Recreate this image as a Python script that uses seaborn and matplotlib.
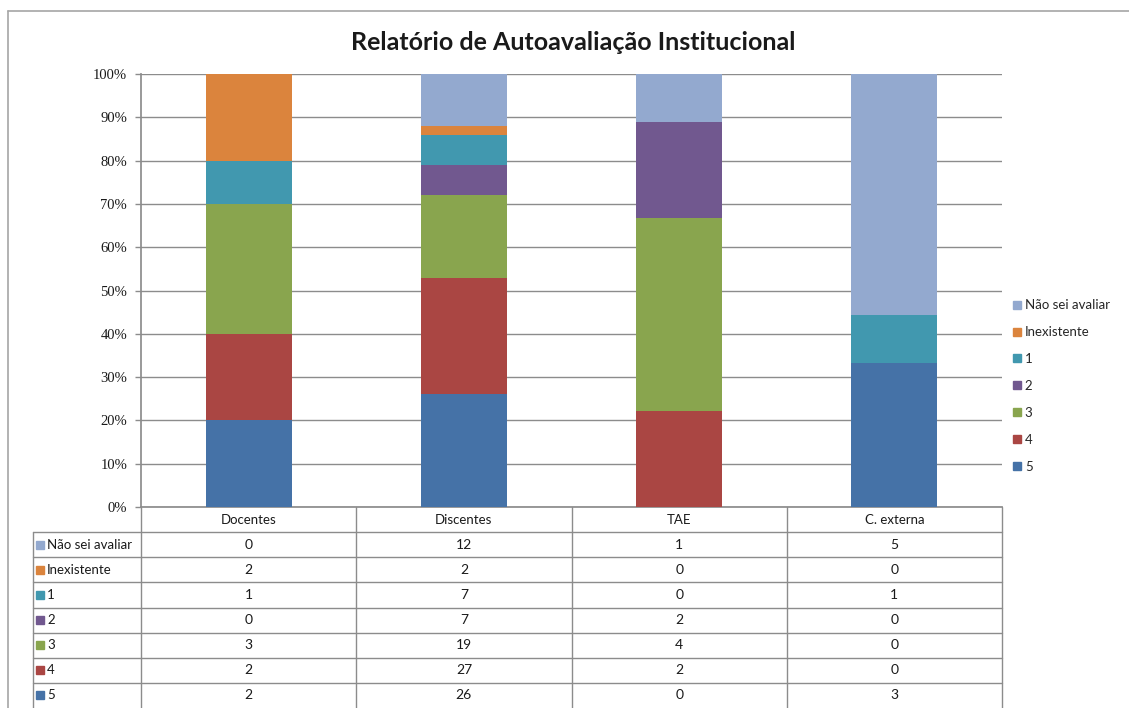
import numpy as np
import pandas as pd
import matplotlib
matplotlib.use("Agg")
import matplotlib.pyplot as plt
import seaborn as sns
from matplotlib.lines import Line2D

# ---------------- data ----------------
categories = ["Docentes", "Discentes", "TAE", "C. externa"]
series_names = ["Não sei avaliar", "Inexistente", "1", "2", "3", "4", "5"]  # table order (top of stack first)
nao_sei = [0, 12, 1, 5]
inexistente = [2, 2, 0, 0]
nota1 = [1, 7, 0, 1]
nota2 = [0, 7, 2, 0]
nota3 = [3, 19, 4, 0]
nota4 = [2, 27, 2, 0]
nota5 = [2, 26, 0, 3]
series_colors = ["#93A9CF", "#DB843D", "#4198AF", "#71588F", "#89A54E", "#AA4643", "#4572A7"]
ytick_values = [0, 0.1, 0.2, 0.3, 0.4, 0.5, 0.6, 0.7, 0.8, 0.9, 1.0]
ytick_labels = ["0%", "10%", "20%", "30%", "40%", "50%", "60%", "70%", "80%", "90%", "100%"]
title = "Relatório de Autoavaliação Institucional"

counts = np.array([nao_sei, inexistente, nota1, nota2, nota3, nota4, nota5], dtype=float)
totals = counts.sum(axis=0)
pct = counts / totals
# cumulative from the bottom of the stack ("5") upwards
cum = np.cumsum(pct[::-1], axis=0)[::-1]

sns.set_theme(style="white")
plt.rcParams['font.family'] = ['Lato', 'DejaVu Sans']

W, H = 1129, 708
fig = plt.figure(figsize=(W / 100, H / 100), dpi=100)
fig.patch.set_facecolor("white")

def fx(px):
    return px / W

def fy(py):
    return 1 - py / H

# outer frame
fig.add_artist(Line2D([fx(7.5), 1.0], [fy(10.5), fy(10.5)], color="#a6a6a6", lw=1.2))
fig.add_artist(Line2D([fx(7.5), fx(7.5)], [fy(10.5), 0.0], color="#a6a6a6", lw=1.2))

# main axes
L, R, T, B = 141, 1002, 74, 507
ax = fig.add_axes([fx(L), fy(B), fx(R) - fx(L), fy(T) - fy(B)])
grid_color = "#8c8c8c"

for i in range(len(series_names)):
    df = pd.DataFrame({"cat": categories, "val": cum[i]})
    sns.barplot(data=df, x="cat", y="val", order=categories, color=series_colors[i],
                width=0.4, linewidth=0, saturation=1, ax=ax, zorder=3)

ax.set_xlim(-0.5, 3.5)
ax.set_ylim(0, 1)
ax.set_yticks(ytick_values)
ax.set_yticklabels(ytick_labels, family="Liberation Serif", fontsize=10.5, color="#1a1a1a")
ax.set_xticks([])
ax.set_xlabel("")
ax.set_ylabel("")
ax.yaxis.grid(True, color=grid_color, lw=1)
ax.set_axisbelow(True)
for s in ["top", "right"]:
    ax.spines[s].set_visible(False)
ax.spines["left"].set_color(grid_color)
ax.spines["bottom"].set_color(grid_color)
ax.tick_params(axis="y", direction="out", length=4, width=1, color=grid_color, pad=6, left=True)
ax.set_facecolor("white")

fig.text(fx(573), fy(42.5), title, ha="center", va="center", fontsize=18, fontweight="bold",
         color="#1a1a1a")

# legend
handles = [Line2D([0], [0], marker="s", ls="none", markersize=5.5, markerfacecolor=c,
                  markeredgecolor=c) for c in series_colors]
fig.legend(handles, series_names, loc="center left", bbox_to_anchor=(fx(1005), fy(386)),
           frameon=False, fontsize=9.5, handletextpad=0.1, labelspacing=1.13,
           handlelength=1.0, borderaxespad=0)

# data table
TL = 33
tax = fig.add_axes([fx(TL), 0, fx(R) - fx(TL), fy(B)])
tax.set_xlim(-0.5 - (L - TL) / ((R - L) / 4), 3.5)
tax.set_ylim(8, 0)
tax.axis("off")
x_left = tax.get_xlim()[0]
lc = "#8c8c8c"
for k in range(1, 8):
    tax.plot([x_left, 3.5], [k, k], color=lc, lw=1, clip_on=False)
for j in range(5):
    tax.plot([-0.5 + j, -0.5 + j], [0, 8], color=lc, lw=1, clip_on=False)
tax.plot([x_left, x_left], [1, 8], color=lc, lw=1, clip_on=False)

for j, c in enumerate(categories):
    tax.text(j, 0.5, c, ha="center", va="center", fontsize=9.5, color="#1a1a1a")
unit = (R - L) / 4
for i, name in enumerate(series_names):
    y = i + 1.5
    tax.plot([x_left + 7.0 / unit], [y], marker="s", ms=5.5, color=series_colors[i], ls="none",
             clip_on=False)
    tax.text(x_left + 14.0 / unit, y, name, ha="left", va="center", fontsize=9.5, color="#1a1a1a")
    for j in range(len(categories)):
        tax.text(j, y, str(int(counts[i, j])), ha="center", va="center", fontsize=10,
                 color="#1a1a1a")

fig.savefig("out.png", dpi=100, facecolor="white")
